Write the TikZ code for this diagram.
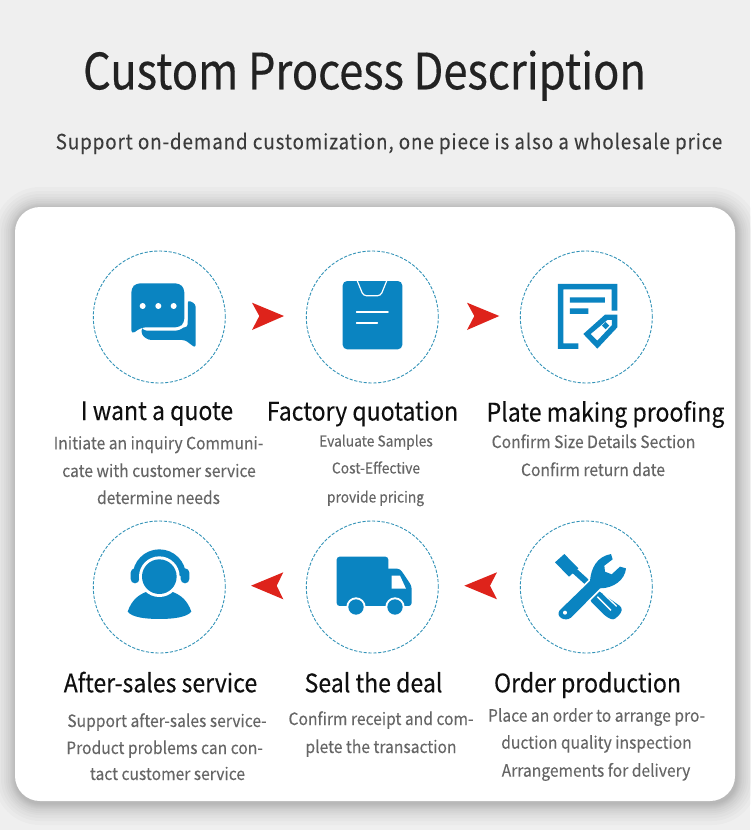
\documentclass[tikz,border=0pt]{standalone}
\usepackage{fontspec}
\setmainfont{Noto Sans CJK SC}
\newfontfamily\titlefont[FakeStretch=0.868,FakeBold=0.35]{Noto Sans CJK SC}
\newfontfamily\subfont[FakeStretch=0.9,LetterSpace=4,FakeBold=0.1]{Noto Sans CJK SC}
\newfontfamily\headfont[FakeStretch=0.905,FakeBold=0.15]{Noto Sans CJK SC}
\newfontfamily\bodyfont[FakeStretch=0.92,FakeBold=0.15]{Noto Sans CJK SC}
\usetikzlibrary{calc}
\definecolor{iconblue}{HTML}{0A84C1}
\definecolor{ringblue}{HTML}{3393B8}
\definecolor{redarrow}{HTML}{DE231B}
\definecolor{titletext}{HTML}{222222}
\definecolor{subtext}{HTML}{3C3C3C}
\definecolor{headtext}{HTML}{0F0F0F}
\definecolor{bodytext}{HTML}{666666}
\definecolor{pagegrey}{HTML}{EFEFEF}
\newcommand{\hd}[4]{\node[headlabel] (#1) at (#2,#3) {#4};}
\newcommand{\bd}[4]{\node[bodylabel] (#1) at (#2,#3) {#4};}
\tikzset{
  x=1pt,y=-1pt,
  ringnode/.style={circle,draw=ringblue,line width=0.9pt,dash pattern=on 3.2pt off 1.6pt,minimum size=132pt,inner sep=0pt},
  headlabel/.style={inner sep=0pt,anchor=base,text=headtext,font=\headfont\fontsize{25.5}{28}\selectfont},
  bodylabel/.style={inner sep=0pt,anchor=base,text=bodytext,font=\bodyfont\fontsize{17}{20}\selectfont},
  smalllabel/.style={inner sep=0pt,anchor=base,text=bodytext,font=\bodyfont\fontsize{15}{18}\selectfont},
  redtip/.style={fill=redarrow,draw=none},
  ico/.style={fill=iconblue,draw=none},
  gap/.style={fill=white,draw=none},
}
\begin{document}
\begin{tikzpicture}
\useasboundingbox (0,0) rectangle (750,830);
% page
\fill[pagegrey] (0,0) rectangle (750,830);
% soft shadow of the card
\foreach \d in {1,2,3,4,5,6,8,10,12,15,18,22}{
  \fill[black,opacity=0.02,rounded corners={(24+\d)*1pt}] ($(15-\d,207-\d)+(1,2)$) rectangle ($(735+\d,801+\d)+(1,2)$);
}
\fill[white,rounded corners=25pt] (15,207) rectangle (735,801);
% title
\node[inner sep=0pt,anchor=base,text=titletext,font=\titlefont\fontsize{50}{54}\selectfont] (title) at (364.5,89.3) {Custom Process Description};
\node[inner sep=0pt,anchor=base,text=subtext,font=\subfont\fontsize{21}{24}\selectfont] (subtitle) at (389,149.3) {Support on-demand customization, one piece is also a wholesale price};
% rings
\node[ringnode] (r1) at (159.3,317) {};
\node[ringnode] (r2) at (372.3,317) {};
\node[ringnode] (r3) at (586.3,317) {};
\node[ringnode] (r4) at (159.3,587) {};
\node[ringnode] (r5) at (372.3,587) {};
\node[ringnode] (r6) at (586.3,587) {};
% red arrows
\fill[redtip] (252,302.7) -- (284,316) -- (252,330) -- (259.3,316) -- cycle;
\fill[redtip] (467,302.7) -- (499.3,316) -- (467,330) -- (474.3,316) -- cycle;
\fill[redtip] (283.3,572.3) -- (251,585.7) -- (283.3,599.3) -- (276.7,585.7) -- cycle;
\fill[redtip] (497,572.3) -- (464.3,585.7) -- (497,599.3) -- (490,585.7) -- cycle;
% icon 1: chat
\begin{scope}[shift={(80,240)},x=0.3333pt,y=-0.3333pt]
  \fill[ico,rounded corners=3pt] (323,180) -- (347,192) -- (347,324) -- (315,300) -- (205,300) -- (185,285) -- (185,262) -- (323,262) -- cycle;
  \fill[gap,rounded corners=5pt] (300,120) -- (323,120) -- (323,250) -- (300,272) -- (185,272) -- (185,240) -- cycle;
  \fill[ico,rounded corners=4pt] (154,145) -- (168,130) -- (298,130) -- (313,145) -- (313,248) -- (298,262) -- (185,262) -- (154,283) -- cycle;
  \fill[white] (188,198) circle[radius=9] (235,198) circle[radius=9] (281,198) circle[radius=9];
\end{scope}
% icon 2: clipboard
\begin{scope}[shift={(300,250)},x=0.3333pt,y=-0.3333pt]
  \fill[ico,rounded corners=4.5pt] (128,93) rectangle (307,298);
  \draw[white,line width=1.2pt,rounded corners=3pt] (172,93) -- (190,137) -- (242,137) -- (260,93);
  \draw[white,line width=1.7pt,line cap=round] (170,187) -- (264,187) (170,220) -- (232,220);
\end{scope}
% icon 3: sheet and tag
\begin{scope}[shift={(440,240)},x=0.3333pt,y=-0.3333pt]
  \fill[ico] (354,132) -- (532,132) -- (532,212) -- (515,212) -- (515,148) -- (370,148) -- (370,310) -- (415,310) -- (415,327) -- (354,327) -- cycle;
  \fill[ico] (390,172) rectangle (495,188) (390,205) rectangle (445,222);
  \fill[ico,even odd rule] (430,282) -- (495,224) -- (532,224) -- (532,262) -- (472,326) -- cycle
    (452,282) -- (502,240) -- (516,240) -- (516,255) -- (472,302) -- cycle;
  \fill[ico] (497,246) -- (508,257) -- (497,268) -- (486,257) -- cycle;
\end{scope}
% icon 4: headset
\begin{scope}[shift={(80,510)},x=0.3333pt,y=-0.3333pt]
  \fill[ico] (158,198) arc[start angle=180,end angle=360,radius=80] -- cycle;
  \fill[ico,rounded corners=4.3pt] (152,175) rectangle (178,220);
  \fill[ico,rounded corners=4.3pt] (302,175) rectangle (328,220);
  \fill[ico] (143,305) .. controls (155,270) and (175,255) .. (200,245) -- (276,245) .. controls (302,255) and (322,270) .. (334,305) .. controls (320,322) and (280,327) .. (238,327) .. controls (196,327) and (156,322) .. (143,305) -- cycle;
  \fill[white] (238,200) circle[radius=61];
  \fill[ico] (238,200) circle[radius=52];
\end{scope}
% icon 5: truck
\begin{scope}[shift={(300,520)},x=0.3333pt,y=-0.3333pt]
  \fill[ico,rounded corners=3pt] (110,110) rectangle (265,258);
  \fill[ico,rounded corners=3pt] (255,146) -- (300,146) -- (335,198) -- (335,258) -- (255,258) -- cycle;
  \fill[white] (275,167) -- (300,167) -- (318,206) -- (275,206) -- cycle;
  \fill[white] (168,261) circle[radius=29] (285,261) circle[radius=29];
  \fill[ico] (168,261) circle[radius=23] (285,261) circle[radius=23];
\end{scope}
% icon 6: tools
\begin{scope}[shift={(545,545)},x=0.3333pt,y=-0.3333pt]
  \fill[ico] (30,52) -- (58,27) -- (100,70) -- (72,95) -- cycle;
  \draw[iconblue,line width=6pt] (80,70) -- (130,115);
  \fill[ico,rounded corners=3pt] (150,130) -- (232,188) -- (228,205) -- (205,226) -- (182,214) -- (133,165) -- cycle;
  \draw[white,line width=1.3pt] (157,155) -- (198,196) (175,146) -- (215,184);
  \path[ico,preaction={draw=white,line width=3.5pt}] (44,196) -- (135,108) .. controls (138,70) and (155,35) .. (198,27) -- (203,43) -- (178,62) -- (180,80) -- (200,88) -- (225,65) -- (243,70) .. controls (240,105) and (205,130) .. (165,130) -- (78,218) .. controls (60,232) and (30,215) .. (44,196) -- cycle;
  \fill[white] (60,203) circle[radius=6];
\end{scope}
% headings
\hd{h1}{157}{420}{I want a quote}
\hd{h2}{362.5}{420.5}{Factory quotation}
\hd{h3}{605.5}{421.5}{Plate making proofing}
\hd{h4}{160.5}{692.3}{After-sales service}
\hd{h5}{373.5}{692.3}{Seal the deal}
\hd{h6}{587.5}{692.3}{Order production}
% body texts
\bd{a1}{158.5}{449.3}{Initiate an inquiry Communi-}
\bd{a2}{159}{477}{cate with customer service}
\bd{a3}{158.5}{504}{determine needs}
\node[smalllabel] (b1) at (376,446.5) {Evaluate Samples};
\node[smalllabel] (b2) at (376,473.5) {Cost-Effective};
\node[smalllabel] (b3) at (375.5,502.5) {provide pricing};
\bd{c1}{593.5}{448}{Confirm Size Details Section}
\bd{c2}{593}{476}{Confirm return date}
\bd{d1}{167}{727}{Support after-sales service-}
\bd{d2}{164.5}{754}{Product problems can con-}
\bd{d3}{167.5}{780}{tact customer service}
\bd{e1}{381}{725}{Confirm receipt and com-}
\bd{e2}{381}{753}{plete the transaction}
\bd{f1}{596.5}{721.7}{Place an order to arrange pro-}
\bd{f2}{596.5}{748.7}{duction quality inspection}
\bd{f3}{596}{776.7}{Arrangements for delivery}
\end{tikzpicture}
\end{document}
